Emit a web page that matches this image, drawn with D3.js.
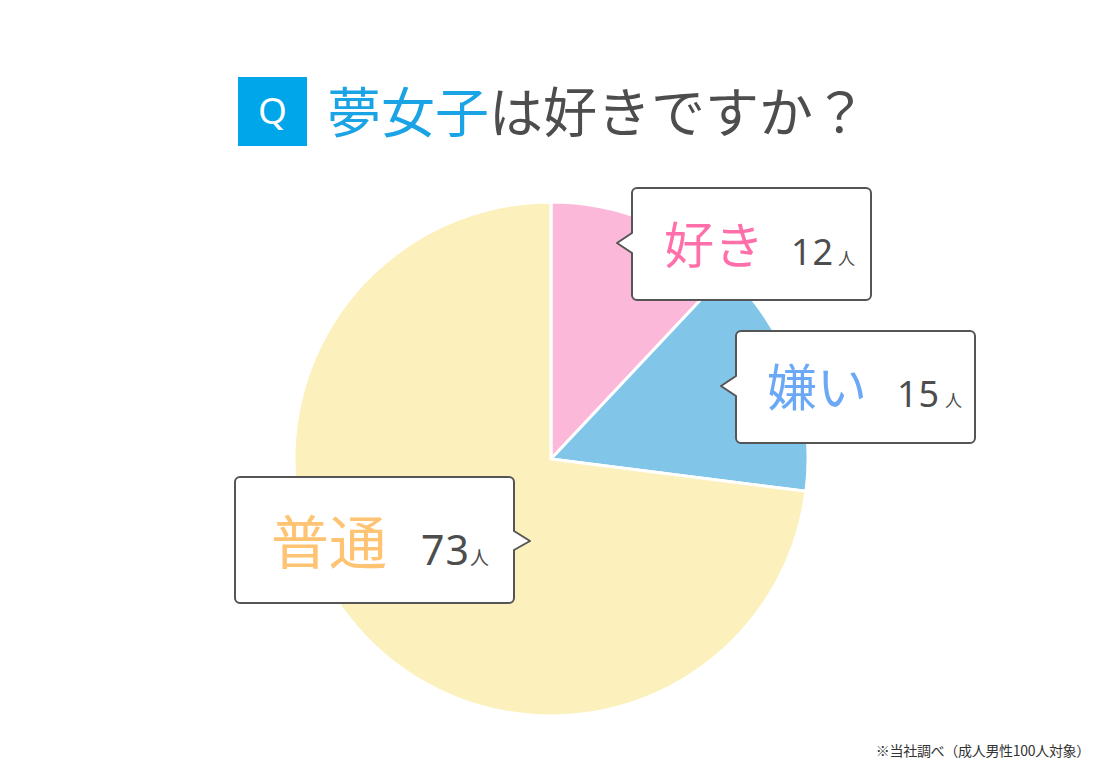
<!DOCTYPE html>
<html>
<head>
<meta charset="utf-8">
<script src="https://cdn.jsdelivr.net/npm/d3@7"></script>
<style>
  html, body { margin: 0; padding: 0; background: #fff; }
  svg { display: block; font-family: "Noto Sans CJK JP", "Noto Sans", sans-serif; }
</style>
</head>
<body>
<svg id="chart"></svg>
<script>
// Data
const categories = ['好き', '嫌い', '普通'];
const counts = [12, 15, 73];
const unit = '人';
const titleAccent = '夢女子';
const titleRest = 'は好きですか？';
const note = '※当社調べ（成人男性100人対象）';

const sliceColors = ['#fcb8d9', '#81c5e8', '#fcf0bc'];
const labelColors = ['#ff6fa9', '#6ba8f5', '#ffc473'];

// Setup
const width = 1100, height = 770;
const svg = d3.select('#chart').attr('width', width).attr('height', height);

// Title
svg.append('rect')
    .attr('x', 238).attr('y', 77)
    .attr('width', 69).attr('height', 69)
    .attr('fill', '#00a6ea');
svg.append('text')
    .attr('x', 272.5).attr('y', 124)
    .attr('text-anchor', 'middle')
    .attr('fill', '#fff')
    .style('font-family', '"Noto Sans", sans-serif')
    .style('font-size', '37px')
    .text('Q');

const title = svg.append('text')
    .attr('x', 327).attr('y', 133)
    .style('font-size', '54px');
title.append('tspan').attr('fill', '#1aa4e6').text(titleAccent);
title.append('tspan').attr('fill', '#4d4d4d').text(titleRest);

// Pie
const cx = 551, cy = 459, radius = 257;
const pie = d3.pie().sort(null).value(d => d)(counts);
const arc = d3.arc().innerRadius(0).outerRadius(radius);

svg.append('g')
    .attr('transform', `translate(${cx},${cy})`)
    .selectAll('path')
    .data(pie)
    .join('path')
    .attr('d', arc)
    .attr('fill', (d, i) => sliceColors[i])
    .attr('stroke', '#fff')
    .attr('stroke-width', 3)
    .attr('stroke-linejoin', 'round');

// Callouts
// box: x, y, w, h; tail: side, tip, base span
const boxes = [
    {x: 632, y: 188, w: 239, h: 112, side: 'left', tip: [617, 243], base: [233, 253], labelSize: 50, numSize: 36},
    {x: 736, y: 331, w: 239, h: 112, side: 'left', tip: [721, 386], base: [376, 396], labelSize: 50, numSize: 36},
    {x: 235, y: 477, w: 279, h: 126, side: 'right', tip: [530, 541], base: [531, 550], labelSize: 58, numSize: 41}
];

function calloutPath(b) {
    const r = 5, x0 = b.x, y0 = b.y, x1 = b.x + b.w, y1 = b.y + b.h;
    const p = d3.path();
    p.moveTo(x0 + r, y0);
    p.lineTo(x1 - r, y0);
    p.arcTo(x1, y0, x1, y0 + r, r);
    if (b.side === 'right') {
        p.lineTo(x1, b.base[0]);
        p.lineTo(b.tip[0], b.tip[1]);
        p.lineTo(x1, b.base[1]);
    }
    p.lineTo(x1, y1 - r);
    p.arcTo(x1, y1, x1 - r, y1, r);
    p.lineTo(x0 + r, y1);
    p.arcTo(x0, y1, x0, y1 - r, r);
    if (b.side === 'left') {
        p.lineTo(x0, b.base[1]);
        p.lineTo(b.tip[0], b.tip[1]);
        p.lineTo(x0, b.base[0]);
    }
    p.lineTo(x0, y0 + r);
    p.arcTo(x0, y0, x0 + r, y0, r);
    p.closePath();
    return p.toString();
}

const callouts = svg.append('g');
boxes.forEach((b, i) => {
    callouts.append('path')
        .attr('d', calloutPath(b))
        .attr('fill', '#fff')
        .attr('stroke', '#555')
        .attr('stroke-width', 2)
        .attr('stroke-linejoin', 'round');
});

// label text positions
const labelPos = [
    {lx: 664, ly: 264, nx: 791, ny: 265, ux: 838},
    {lx: 767, ly: 406, nx: 897, ny: 407, ux: 945},
    {lx: 271, ly: 564, nx: 421, ny: 565, ux: 470}
];

categories.forEach((c, i) => {
    const p = labelPos[i], b = boxes[i];
    callouts.append('text')
        .attr('x', p.lx).attr('y', p.ly)
        .attr('fill', labelColors[i])
        .style('font-size', b.labelSize + 'px')
        .text(c);
    callouts.append('text')
        .attr('x', p.nx).attr('y', p.ny)
        .attr('fill', '#4d4d4d')
        .style('font-family', '"Noto Sans", sans-serif')
        .style('font-size', b.numSize + 'px')
        .style('letter-spacing', '1px')
        .text(counts[i]);
    callouts.append('text')
        .attr('x', p.ux).attr('y', p.ny)
        .attr('fill', '#4d4d4d')
        .style('font-size', (i === 2 ? 19 : 17) + 'px')
        .text(unit);
});

// Footnote
svg.append('text')
    .attr('x', 1090).attr('y', 756)
    .attr('text-anchor', 'end')
    .attr('fill', '#333')
    .style('font-size', '14px')
    .style('letter-spacing', '-0.3px')
    .text(note);
</script>
</body>
</html>
